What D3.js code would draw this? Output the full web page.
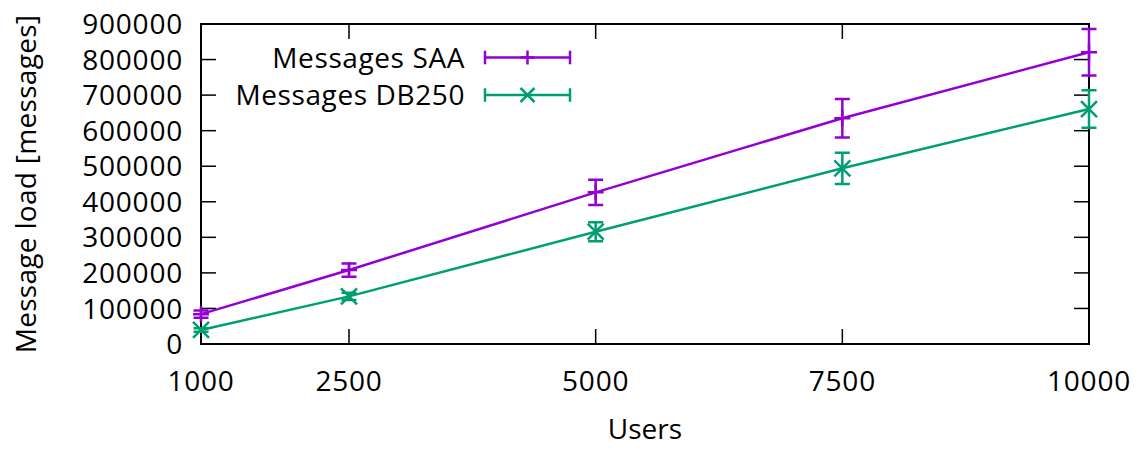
<!DOCTYPE html>
<html>
<head>
<meta charset="utf-8">
<script src="https://cdn.jsdelivr.net/npm/d3@7"></script>
<style>
  html, body { margin: 0; padding: 0; background: #fff; }
  svg text { font-family: "Open Sans", "Noto Sans", sans-serif; fill: #000; }
</style>
</head>
<body>
<svg id="chart" width="1147" height="449"></svg>
<script>
// Number of users on the x axis
const users = [1000, 2500, 5000, 7500, 10000];

// Message load per series (mean and error half-width)
const saaMean = [84000, 208000, 426500, 635000, 820500];
const saaErr  = [10000, 18750, 35600, 54000, 65600];
const dbMean  = [39500, 134000, 315800, 494100, 660900];
const dbErr   = [5000, 10000, 26700, 44000, 53000];

const seriesNames = ["Messages SAA", "Messages DB250"];
const seriesColors = ["#9400d3", "#009e73"];
const yTicks = [0, 100000, 200000, 300000, 400000, 500000, 600000, 700000, 800000, 900000];
const xTicks = [1000, 2500, 5000, 7500, 10000];

const svg = d3.select("#chart");
const plot = { left: 201, right: 1089, top: 24, bottom: 344 };

const x = d3.scaleLinear().domain([1000, 10000]).range([plot.left, plot.right]);
const y = d3.scaleLinear().domain([0, 900000]).range([plot.bottom, plot.top]);

const FONT = 28;
const TICK = 15;

// Inward ticks on all four sides
const tickG = svg.append("g").attr("stroke", "#000").attr("stroke-width", 1.5);
yTicks.forEach(v => {
  tickG.append("line").attr("x1", plot.left).attr("x2", plot.left + TICK).attr("y1", y(v)).attr("y2", y(v));
  tickG.append("line").attr("x1", plot.right).attr("x2", plot.right - TICK).attr("y1", y(v)).attr("y2", y(v));
});
xTicks.forEach(v => {
  tickG.append("line").attr("x1", x(v)).attr("x2", x(v)).attr("y1", plot.bottom).attr("y2", plot.bottom - TICK);
  tickG.append("line").attr("x1", x(v)).attr("x2", x(v)).attr("y1", plot.top).attr("y2", plot.top + TICK);
});

// Frame
svg.append("rect")
  .attr("x", plot.left).attr("y", plot.top)
  .attr("width", plot.right - plot.left).attr("height", plot.bottom - plot.top)
  .attr("fill", "none").attr("stroke", "#000").attr("stroke-width", 2);

// Tick labels
svg.append("g").selectAll("text").data(yTicks).join("text")
  .attr("x", 183).attr("y", d => y(d)).attr("dy", "0.36em")
  .attr("text-anchor", "end").attr("font-size", FONT)
  .attr("letter-spacing", 0.8)
  .text(d => d);

svg.append("g").selectAll("text").data(xTicks).join("text")
  .attr("x", d => x(d)).attr("y", 391)
  .attr("text-anchor", "middle").attr("font-size", FONT)
  .attr("letter-spacing", 0.8)
  .text(d => d);

// Axis titles
svg.append("text")
  .attr("x", 645).attr("y", 439).attr("text-anchor", "middle")
  .attr("font-size", FONT).text("Users");

svg.append("text")
  .attr("transform", "translate(36,184) rotate(-90)")
  .attr("text-anchor", "middle").attr("font-size", FONT)
  .attr("letter-spacing", 0.3)
  .text("Message load [messages]");

// Point glyphs
function plusMark(g, cx, cy, r, color) {
  g.append("path").attr("d", `M${cx - r},${cy}H${cx + r}M${cx},${cy - r}V${cy + r}`)
    .attr("stroke", color).attr("stroke-width", 2.5).attr("fill", "none");
}
function crossMark(g, cx, cy, r, color) {
  g.append("path").attr("d", `M${cx - r},${cy - r}L${cx + r},${cy + r}M${cx - r},${cy + r}L${cx + r},${cy - r}`)
    .attr("stroke", color).attr("stroke-width", 2.5).attr("fill", "none");
}
const markers = [plusMark, crossMark];

function drawSeries(means, errs, idx) {
  const color = seriesColors[idx];
  const g = svg.append("g");
  const pts = users.map((u, i) => ({ u, m: means[i], e: errs[i] }));
  const line = d3.line().x(d => x(d.u)).y(d => y(d.m));
  g.append("path").datum(pts).attr("d", line)
    .attr("fill", "none").attr("stroke", color).attr("stroke-width", 2.5);
  const cap = 7.5;
  pts.forEach(p => {
    const cx = x(p.u), y0 = y(p.m - p.e), y1 = y(p.m + p.e);
    g.append("path")
      .attr("d", `M${cx},${y0}V${y1}M${cx - cap},${y0}H${cx + cap}M${cx - cap},${y1}H${cx + cap}`)
      .attr("stroke", color).attr("stroke-width", 2.5).attr("fill", "none");
    markers[idx](g, cx, y(p.m), 8, color);
  });
}
drawSeries(saaMean, saaErr, 0);
drawSeries(dbMean, dbErr, 1);

// Legend
const legendRows = [57.5, 95];
seriesNames.forEach((name, i) => {
  const ly = legendRows[i];
  const color = seriesColors[i];
  const g = svg.append("g");
  g.append("text").attr("x", 465).attr("y", ly).attr("dy", "0.36em")
    .attr("text-anchor", "end").attr("font-size", FONT).attr("letter-spacing", 0.6).text(name);
  const x0 = 485, x1 = 570, c = 6.7;
  g.append("path")
    .attr("d", `M${x0},${ly}H${x1}M${x0},${ly - c}V${ly + c}M${x1},${ly - c}V${ly + c}`)
    .attr("stroke", color).attr("stroke-width", 2.5).attr("fill", "none");
  markers[i](g, (x0 + x1) / 2, ly, 7, color);
});
</script>
</body>
</html>
